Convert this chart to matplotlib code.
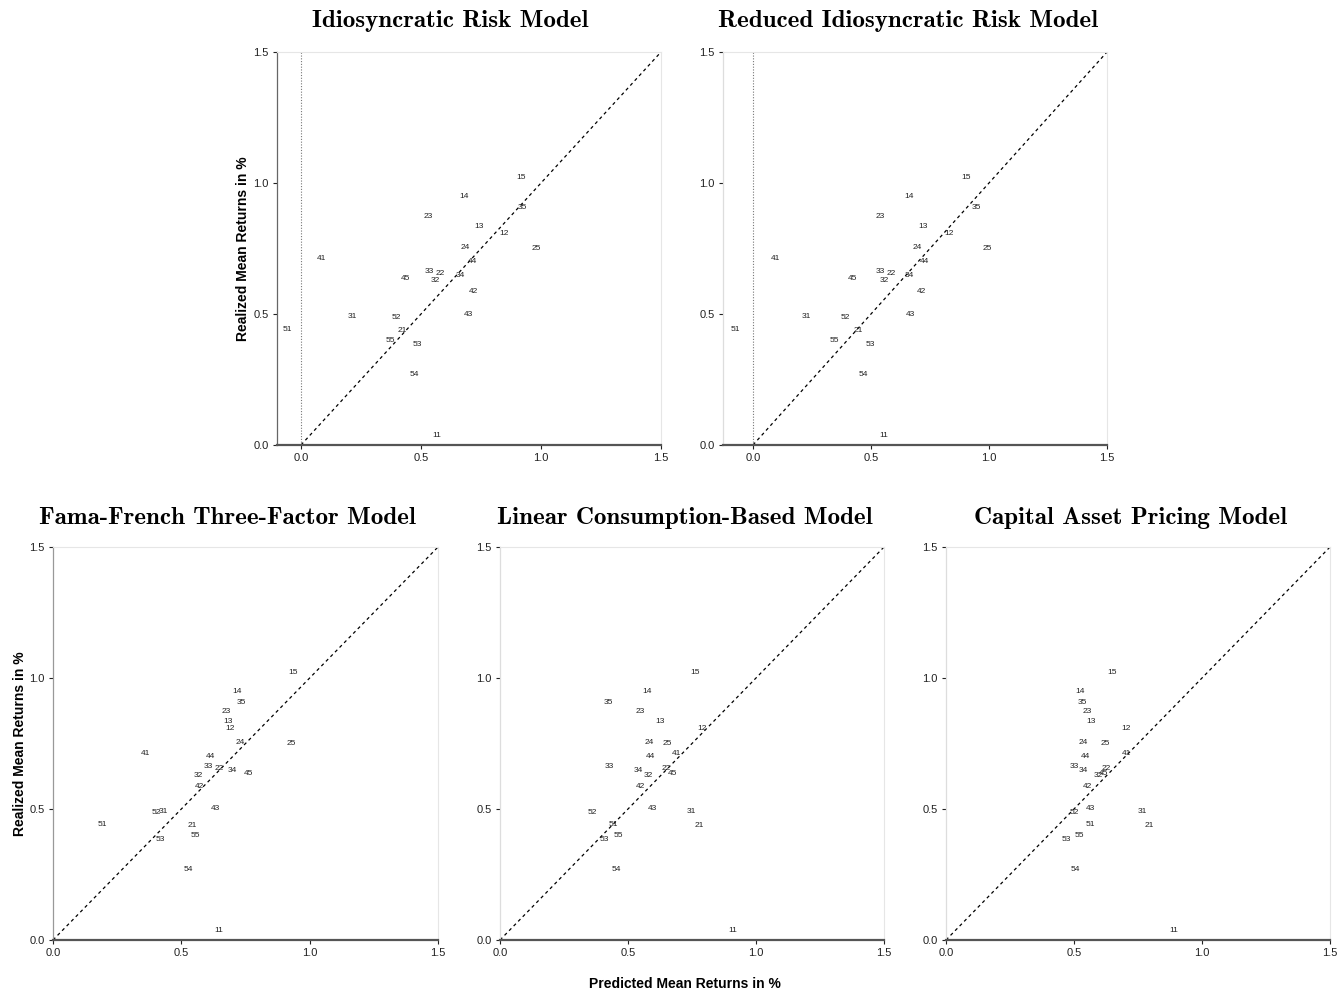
import numpy as np
import matplotlib.pyplot as plt

# 25 size/book-to-market portfolios
portfolios = ["11", "12", "13", "14", "15",
              "21", "22", "23", "24", "25",
              "31", "32", "33", "34", "35",
              "41", "42", "43", "44", "45",
              "51", "52", "53", "54", "55"]

realized = [0.038, 0.807, 0.834, 0.948, 1.020,
            0.436, 0.654, 0.872, 0.753, 0.750,
            0.490, 0.626, 0.663, 0.647, 0.906,
            0.710, 0.586, 0.500, 0.699, 0.635,
            0.439, 0.487, 0.384, 0.269, 0.397]

pred_idio = [0.564, 0.846, 0.743, 0.678, 0.917,
             0.420, 0.579, 0.532, 0.685, 0.979,
             0.215, 0.560, 0.535, 0.662, 0.922,
             0.085, 0.718, 0.699, 0.715, 0.435,
             -0.056, 0.399, 0.485, 0.471, 0.371]

pred_reduced = [0.554, 0.832, 0.722, 0.660, 0.903,
                0.445, 0.586, 0.538, 0.698, 0.992,
                0.225, 0.556, 0.541, 0.661, 0.948,
                0.096, 0.715, 0.669, 0.725, 0.421,
                -0.076, 0.390, 0.497, 0.467, 0.346]

pred_ff3 = [0.646, 0.688, 0.680, 0.717, 0.937,
            0.542, 0.648, 0.673, 0.728, 0.928,
            0.429, 0.567, 0.605, 0.697, 0.735,
            0.362, 0.570, 0.632, 0.614, 0.761,
            0.193, 0.401, 0.419, 0.528, 0.555]

pred_ccapm = [0.909, 0.788, 0.625, 0.573, 0.764,
              0.779, 0.650, 0.548, 0.581, 0.652,
              0.747, 0.578, 0.428, 0.542, 0.423,
              0.688, 0.547, 0.594, 0.587, 0.673,
              0.444, 0.362, 0.408, 0.453, 0.464]

pred_capm = [0.888, 0.702, 0.568, 0.523, 0.650,
             0.796, 0.624, 0.551, 0.535, 0.622,
             0.766, 0.595, 0.500, 0.538, 0.532,
             0.707, 0.553, 0.564, 0.544, 0.616,
             0.564, 0.501, 0.469, 0.504, 0.521]

titles = ["Idiosyncratic Risk Model",
          "Reduced Idiosyncratic Risk Model",
          "Fama-French Three-Factor Model",
          "Linear Consumption-Based Model",
          "Capital Asset Pricing Model"]

plt.rcParams['font.family'] = ['Liberation Sans', 'DejaVu Sans']

W, H = 1339, 992
fig = plt.figure(figsize=(W / 100, H / 100), dpi=100)

# panel layout in pixels: left, right, top, bottom, xmin, title centre x, title y
panels = [
    (277, 661, 52, 445, -0.1, 450, 21, pred_idio, -0.070, "#666666"),
    (723, 1107, 52, 445, -0.127, 908, 21, pred_reduced, None, "#dddddd"),
    (53, 438, 547, 940, 0.0, 227, 518, pred_ff3, -0.0675, "#999999"),
    (500, 884, 547, 940, 0.0, 685, 518, pred_ccapm, None, "#dddddd"),
    (946, 1330, 547, 940, 0.0, 1131, 518, pred_capm, None, "#dddddd"),
]

for i, (l, r, t, b, xmin, tx, ty, pred, ylab_x, lcol) in enumerate(panels):
    ax = fig.add_axes([l / W, 1 - b / H, (r - l) / W, (b - t) / H])
    ax.set_xlim(xmin, 1.5)
    ax.set_ylim(0, 1.5)

    ax.plot([0, 1.5], [0, 1.5], color="black", lw=0.9, ls=(0, (2.6, 2.6)))
    if xmin < 0:
        ax.axvline(0, color="#777777", lw=0.8, ls=(0, (1, 1.5)))

    for lab, px, ry in zip(portfolios, pred, realized):
        ax.text(px, ry, lab, fontsize=6, ha="center", va="center",
                color="#222222")

    ticks = [0.0, 0.5, 1.0, 1.5]
    ax.set_xticks(ticks)
    ax.set_yticks(ticks)
    ax.set_xticklabels(["0.0", "0.5", "1.0", "1.5"])
    ax.set_yticklabels(["0.0", "0.5", "1.0", "1.5"])
    ax.tick_params(direction="out", length=3, width=0.8, colors="#222222",
                   labelsize=8, pad=3)

    ax.spines["top"].set_color("#e6e6e6")
    ax.spines["right"].set_color("#e6e6e6")
    ax.spines["top"].set_linewidth(0.8)
    ax.spines["right"].set_linewidth(0.8)
    ax.spines["left"].set_color(lcol)
    ax.spines["left"].set_linewidth(0.9)
    ax.spines["bottom"].set_color("#555555")
    ax.spines["bottom"].set_linewidth(1.6)

    if ylab_x is not None:
        ax.set_ylabel("Realized Mean Returns in %", fontsize=10,
                      fontweight="bold")
        ax.yaxis.set_label_coords(ylab_x, 0.5)

    fig.text(tx / W, 1 - ty / H, titles[i], family="cmb10", fontsize=18,
             ha="center", va="center")

fig.text(685 / W, 1 - 984 / H, "Predicted Mean Returns in %", fontsize=10,
         fontweight="bold", ha="center", va="center")

plt.savefig("out.png", dpi=100)
